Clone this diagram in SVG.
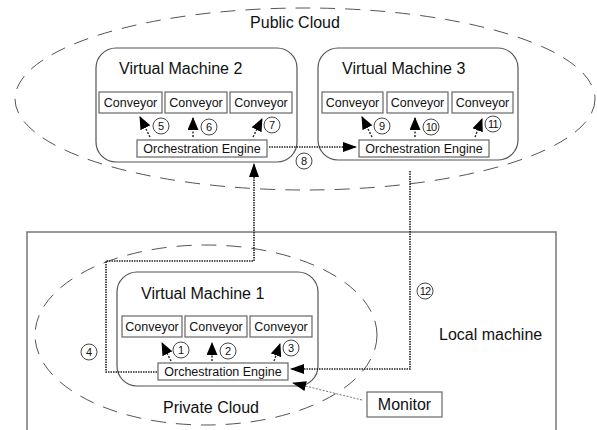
<svg xmlns="http://www.w3.org/2000/svg" width="597" height="430" viewBox="0 0 597 430">
<style>
text{font-family:"Liberation Sans",Arial,sans-serif;fill:#111}
.title{font-size:16px}
.lbl{font-size:12.5px;text-anchor:middle}
.num{font-size:11px;text-anchor:middle}
.cloud{fill:none;stroke:#555;stroke-width:1;stroke-dasharray:15 10}
.vm{fill:none;stroke:#555;stroke-width:1.2}
.box{fill:#fff;stroke:#666;stroke-width:1.2}
.nc{fill:#fff;stroke:#333;stroke-width:0.9}
.sa{stroke:#222;stroke-width:1.4;stroke-dasharray:2 1.5;marker-end:url(#ahb)}
.con{fill:none;stroke:#222;stroke-width:1.6;stroke-dasharray:1.5 1;marker-end:url(#ah)}
.mon{fill:none;stroke:#777;stroke-width:1;stroke-dasharray:2 1.5;marker-end:url(#ah)}
</style>
<defs>
<marker id="ah" viewBox="0 0 14 10" refX="13" refY="5" markerWidth="14" markerHeight="10" markerUnits="userSpaceOnUse" orient="auto"><path d="M0,0 L14,5 L0,10 z" fill="#000"/></marker>
<marker id="ahb" viewBox="0 0 13 11" refX="12" refY="5.5" markerWidth="13" markerHeight="11" markerUnits="userSpaceOnUse" orient="auto"><path d="M0,0 L13,5.5 L0,11 z" fill="#000"/></marker>
</defs>
<rect width="597" height="430" fill="#fff"/>

<g id="local-machine">
<rect x="27" y="232" width="529" height="210" fill="none" stroke="#777" stroke-width="1.5"/>
<text class="title" x="439" y="340">Local machine</text>
</g>

<g id="public-cloud">
<ellipse class="cloud" cx="305" cy="99" rx="290" ry="91"/>
<text class="title" x="295" y="28" text-anchor="middle">Public Cloud</text>
</g>

<g id="private-cloud">
<ellipse class="cloud" cx="206" cy="335" rx="171" ry="90"/>
<text class="title" x="211" y="413" text-anchor="middle">Private Cloud</text>
</g>

<g id="vm2" transform="translate(96,48)">
<rect class="vm" x="0" y="0" width="201" height="114" rx="20"/>
<text class="title" x="23" y="26">Virtual Machine 2</text>
<rect class="box" x="3" y="44" width="63" height="21"/><text class="lbl" x="34.5" y="59">Conveyor</text>
<rect class="box" x="69" y="44" width="62" height="21"/><text class="lbl" x="100" y="59">Conveyor</text>
<rect class="box" x="134" y="44" width="62" height="21"/><text class="lbl" x="165" y="59">Conveyor</text>
<rect class="box" x="41" y="92" width="130" height="17"/><text class="lbl" x="106" y="105">Orchestration Engine</text>
<line class="sa" x1="54" y1="89" x2="44" y2="69"/>
<line class="sa" x1="97" y1="89" x2="97" y2="70"/>
<line class="sa" x1="157" y1="89" x2="166" y2="71"/>
<circle class="nc" cx="65" cy="78" r="8"/><text class="num" x="65" y="82">5</text>
<circle class="nc" cx="113" cy="79" r="8"/><text class="num" x="113" y="83">6</text>
<circle class="nc" cx="176" cy="77" r="8"/><text class="num" x="176" y="81">7</text>
</g>

<g id="vm3" transform="translate(318,48)">
<rect class="vm" x="0" y="0" width="200" height="112" rx="20"/>
<text class="title" x="24" y="26">Virtual Machine 3</text>
<rect class="box" x="4" y="44" width="61" height="21"/><text class="lbl" x="34.5" y="59">Conveyor</text>
<rect class="box" x="69" y="44" width="61" height="21"/><text class="lbl" x="99.5" y="59">Conveyor</text>
<rect class="box" x="134" y="44" width="61" height="21"/><text class="lbl" x="164.5" y="59">Conveyor</text>
<rect class="box" x="41" y="92" width="130" height="17"/><text class="lbl" x="106" y="105">Orchestration Engine</text>
<line class="sa" x1="54" y1="89" x2="44" y2="69"/>
<line class="sa" x1="97" y1="89" x2="97" y2="70"/>
<line class="sa" x1="157" y1="89" x2="164" y2="71"/>
<circle class="nc" cx="64" cy="78" r="8"/><text class="num" x="64" y="82">9</text>
<circle class="nc" cx="113" cy="79" r="8"/><text class="num" x="113" y="83" letter-spacing="-0.8">10</text>
<circle class="nc" cx="175" cy="76" r="8"/><text class="num" x="175" y="80" letter-spacing="-0.8">11</text>
</g>

<g id="vm1" transform="translate(117,272)">
<rect class="vm" x="0" y="0" width="201" height="114" rx="20"/>
<text class="title" x="24" y="27">Virtual Machine 1</text>
<rect class="box" x="5" y="44" width="60" height="21"/><text class="lbl" x="35" y="59">Conveyor</text>
<rect class="box" x="68" y="44" width="62" height="21"/><text class="lbl" x="99" y="59">Conveyor</text>
<rect class="box" x="133" y="44" width="62" height="21"/><text class="lbl" x="164" y="59">Conveyor</text>
<rect class="box" x="41" y="91" width="130" height="17"/><text class="lbl" x="106" y="104">Orchestration Engine</text>
<line class="sa" x1="54" y1="89" x2="45" y2="71"/>
<line class="sa" x1="95" y1="89" x2="95" y2="71"/>
<line class="sa" x1="157" y1="89" x2="163" y2="72"/>
<circle class="nc" cx="64" cy="78" r="8"/><text class="num" x="64" y="82">1</text>
<circle class="nc" cx="111" cy="79" r="8"/><text class="num" x="111" y="83">2</text>
<circle class="nc" cx="174" cy="76" r="8"/><text class="num" x="174" y="80">3</text>
</g>

<g id="monitor">
<rect class="box" x="367" y="392" width="75" height="25"/>
<text class="title" x="404.5" y="410" text-anchor="middle">Monitor</text>
</g>

<g id="connectors">
<path class="con" d="M157,372 H106 V261 H254 V164"/>
<path class="con" d="M269,147 H356"/>
<path class="con" d="M410,171 V369 H291"/>
<path class="mon" d="M362,400 L293,383"/>
<circle class="nc" cx="89" cy="352" r="8"/><text class="num" x="89" y="356">4</text>
<circle class="nc" cx="304" cy="161" r="8"/><text class="num" x="304" y="165">8</text>
<circle class="nc" cx="425" cy="291" r="8"/><text class="num" x="425" y="295" letter-spacing="-0.8">12</text>
</g>
</svg>
